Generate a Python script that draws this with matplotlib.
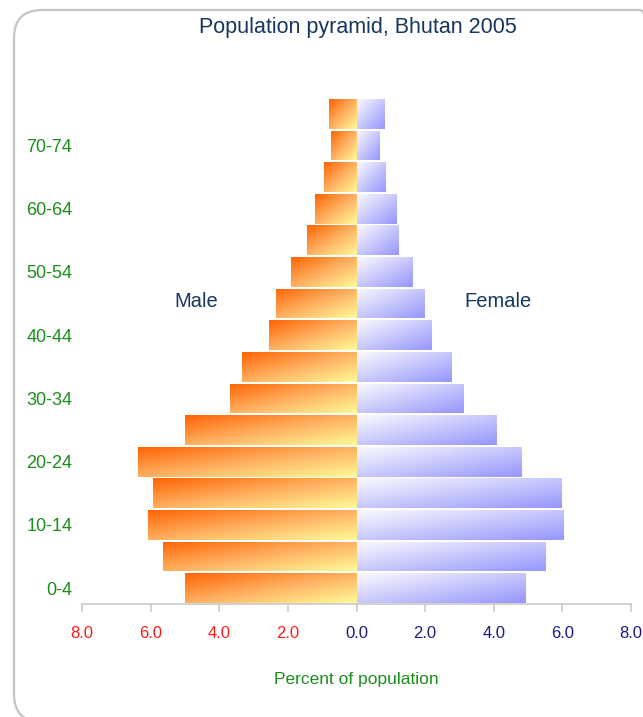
import numpy as np
import matplotlib.pyplot as plt
from matplotlib.colors import LinearSegmentedColormap
from matplotlib.patches import FancyBboxPatch

plt.rcParams['font.family'] = ['Liberation Sans', 'DejaVu Sans']

ages = ["0-4", "5-9", "10-14", "15-19", "20-24", "25-29", "30-34", "35-39",
        "40-44", "45-49", "50-54", "55-59", "60-64", "65-69", "70-74", "75+"]
male = [5.0, 5.63, 6.09, 5.92, 6.38, 4.99, 3.70, 3.35,
        2.54, 2.36, 1.90, 1.43, 1.20, 0.96, 0.73, 0.79]
female = [4.90, 5.48, 6.03, 5.95, 4.78, 4.08, 3.09, 2.74,
          2.16, 1.98, 1.63, 1.22, 1.14, 0.82, 0.67, 0.79]
xticks = [-8, -6, -4, -2, 0, 2, 4, 6, 8]

W, H = 643, 717
fig = plt.figure(figsize=(W / 100, H / 100), dpi=100)
ax = fig.add_axes([82 / W, 1 - 604 / H, (631 - 82) / W, (604 - 98) / H])

male_cmap = LinearSegmentedColormap.from_list("m", ["#ff6405", "#ffb060", "#fffa98"])
fem_cmap = LinearSegmentedColormap.from_list("f", ["#fafaff", "#c8c8fc", "#9696ff"])

y = np.arange(len(ages))
mbars = ax.barh(y, -np.array(male), height=0.94, color="none", edgecolor="none")
fbars = ax.barh(y, female, height=0.94, color="none", edgecolor="none")

u = np.linspace(0, 1, 60)
grad = (u[None, :] + u[:, None]) / 2  # top-left -> bottom-right


def fill(bars, cmap):
    for b in bars:
        x0, y0 = b.get_x(), b.get_y()
        x1, y1 = x0 + b.get_width(), y0 + b.get_height()
        im = ax.imshow(grad, cmap=cmap, vmin=0, vmax=1, aspect="auto",
                       extent=(min(x0, x1), max(x0, x1), y0, y1),
                       origin="upper", interpolation="bilinear", zorder=2)
        im.set_clip_path(b)


fill(mbars, male_cmap)
fill(fbars, fem_cmap)

ax.set_xlim(-8, 8)
ax.set_ylim(-0.5, len(ages) - 0.5)
for s in ["left", "right", "top"]:
    ax.spines[s].set_visible(False)
ax.spines["bottom"].set_color("#c8c8c8")
ax.spines["bottom"].set_linewidth(1.2)

ax.set_xticks(xticks)
ax.set_xticklabels(["%.1f" % abs(v) for v in xticks], fontsize=12)
for v, lab in zip(xticks, ax.get_xticklabels()):
    lab.set_color("#ff1a1a" if v < 0 else "#1a1a80")
ax.tick_params(axis="x", length=6, width=1.2, color="#c8c8c8", pad=10)

ax.set_yticks(y[::2])
ax.set_yticklabels(ages[::2], fontsize=13, color="#1b8f1b")
ax.tick_params(axis="y", length=0, pad=7)

ax.set_xlabel("Percent of population", fontsize=12.5, color="#1b8f1b", labelpad=22)

fig.text(358 / W, 1 - 27 / H, "Population pyramid, Bhutan 2005", ha="center", va="center",
         fontsize=15.5, color="#17375e")
fig.text(196 / W, 1 - 301 / H, "Male", ha="center", va="center", fontsize=14.5, color="#17375e")
fig.text(498 / W, 1 - 301 / H, "Female", ha="center", va="center", fontsize=14.5, color="#17375e")

# rounded frame around the chart area
frame = FancyBboxPatch((0.14, -0.05), 6.54, 7.12, boxstyle="round,pad=0,rounding_size=0.28",
                       transform=fig.dpi_scale_trans, facecolor="none", edgecolor="#c4c4c4",
                       linewidth=1.6, zorder=0)
fig.patches.append(frame)

fig.savefig("out.png", dpi=100)
